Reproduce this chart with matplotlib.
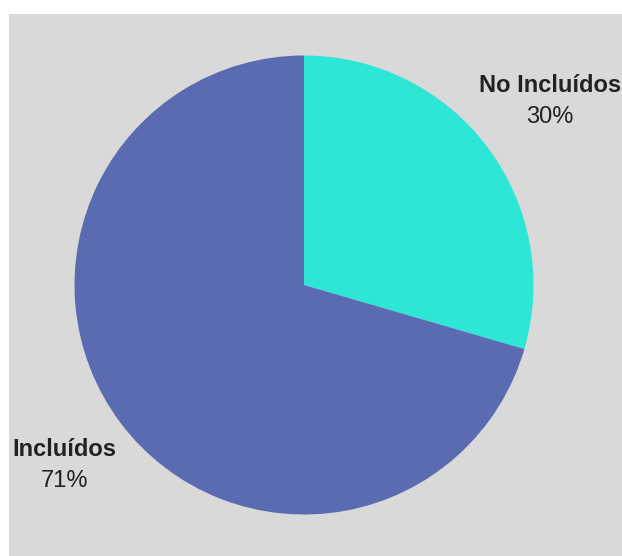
import matplotlib
matplotlib.use("Agg")
import matplotlib.pyplot as plt

labels = ["No Incluídos", "Incluídos"]
values = [29.5, 70.5]
pct_labels = ["30%", "71%"]
colors = ["#2ee6d6", "#5a6bb2"]

plt.rcParams['font.family'] = ['Liberation Sans', 'DejaVu Sans']

W, H = 622, 556
fig = plt.figure(figsize=(W / 100, H / 100), dpi=100)
fig.patch.set_facecolor("white")

# gray panel behind the pie
bg = fig.add_axes([9 / W, 0, 1 - 9 / W, (H - 14) / H])
bg.set_facecolor("#d9d9d9")
bg.set_xticks([])
bg.set_yticks([])
for s in bg.spines.values():
    s.set_visible(False)

cx, cy, r = 304, 285, 229.5
ax = fig.add_axes([(cx - r) / W, (H - cy - r) / H, 2 * r / W, 2 * r / H])
ax.set_facecolor("none")
ax.pie(values, colors=colors, startangle=90, counterclock=False, radius=1,
       wedgeprops=dict(linewidth=0))
ax.set_xlim(-1, 1)
ax.set_ylim(-1, 1)
ax.set_aspect("equal")
ax.axis("off")

def px(x, y):
    return (x - cx) / r, (cy - y) / r

label_pos = [(550, 85), (64.5, 449)]
pct_pos = [(550, 117), (65, 481)]
for name, pct, lp, pp in zip(labels, pct_labels, label_pos, pct_pos):
    ax.text(*px(*lp), name, ha="center", va="center", fontsize=17,
            fontweight="bold", color="#222222", clip_on=False)
    ax.text(*px(*pp), pct, ha="center", va="center", fontsize=17,
            color="#222222", clip_on=False)

fig.savefig("out.png", dpi=100)
